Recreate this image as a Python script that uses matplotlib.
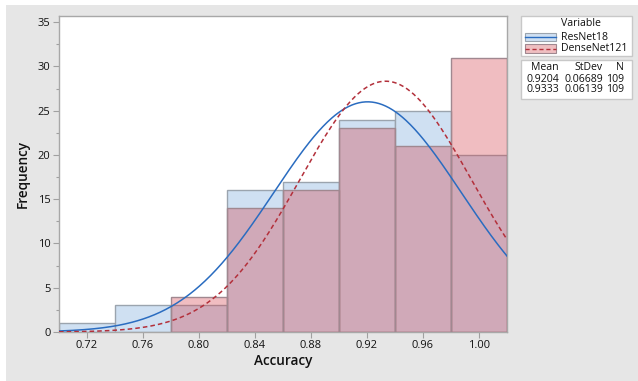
import numpy as np
import matplotlib
matplotlib.use("Agg")
import matplotlib.pyplot as plt
from matplotlib.patches import Rectangle
from matplotlib.lines import Line2D

plt.rcParams['font.family'] = ['Open Sans', 'DejaVu Sans']

# ---- data ----
bin_centers = [0.72, 0.76, 0.80, 0.84, 0.88, 0.92, 0.96, 1.00]
bin_width = 0.04
resnet_counts = [1, 3, 3, 16, 17, 24, 25, 20]
densenet_counts = [0, 0, 4, 14, 16, 23, 21, 31]
series_names = ["ResNet18", "DenseNet121"]
means = [0.9204, 0.9333]
stdevs = [0.06689, 0.06139]
ns = [109, 109]
xticks = [0.72, 0.76, 0.80, 0.84, 0.88, 0.92, 0.96, 1.00]
yticks = [0, 5, 10, 15, 20, 25, 30, 35]

W, H = 638, 381
fig = plt.figure(figsize=(W / 100, H / 100), dpi=100)
fig.patch.set_facecolor('white')
# gray panel background
fig.patches.append(Rectangle((6 / W, 0), 1 - 6 / W, 1 - 5 / H, transform=fig.transFigure,
                             facecolor='#e6e6e6', edgecolor='none', zorder=-10))

ax = fig.add_axes([59 / W, (H - 332) / H, 448 / W, 316 / H])
ax.set_facecolor('white')

blue_fill = '#cfe0f2'
blue_line = '#2a6cc0'
red_line = '#b3303b'
txt = '#111111'
fs_tick = 8
fs_leg = 7.6

ax.bar(bin_centers, resnet_counts, width=bin_width, color=blue_fill,
       edgecolor='#9ba4ae', linewidth=1.0, zorder=2)
dn = [(c, v) for c, v in zip(bin_centers, densenet_counts) if v > 0]
ax.bar([c for c, v in dn], [v for c, v in dn], width=bin_width,
       facecolor=(0.827, 0.251, 0.290, 0.34), edgecolor='#a08890', linewidth=1.0, zorder=3)

xs = np.linspace(0.70, 1.02, 400)
for m, s, n, col, ls in [(means[0], stdevs[0], ns[0], blue_line, '-'),
                         (means[1], stdevs[1], ns[1], red_line, (0, (3, 2)))]:
    ys = n * bin_width / (s * np.sqrt(2 * np.pi)) * np.exp(-0.5 * ((xs - m) / s) ** 2)
    ax.plot(xs, ys, color=col, linestyle=ls, linewidth=1.1, zorder=4)

ax.set_xlim(0.70, 1.02)
ax.set_ylim(0, 35.7)
ax.set_xticks(xticks)
ax.set_xticklabels([f"{t:.2f}" for t in xticks])
ax.set_yticks(yticks)
ax.set_yticks(np.arange(2.5, 35.7, 5), minor=True)
ax.tick_params(axis='both', which='major', labelsize=fs_tick, color='#a0a0a0', length=4,
               width=0.8, labelcolor=txt, pad=2)
ax.tick_params(axis='y', which='minor', color='#a0a0a0', length=2.5, width=0.8)
for sp in ax.spines.values():
    sp.set_color('#a8a8a8')
    sp.set_linewidth(1.0)

ax.set_xlabel('Accuracy', fontsize=9.8, fontweight='semibold', color=txt, labelpad=2)
ax.set_ylabel('Frequency', fontsize=9.8, fontweight='semibold', color=txt, labelpad=6)

# ---- legend box ----
def fx(px):
    return px / W

def fy(py):
    return 1 - py / H

fig.patches.append(Rectangle((fx(521), fy(56)), fx(632) - fx(521), fy(16) - fy(56),
                             transform=fig.transFigure, facecolor='white',
                             edgecolor='#c8c8c8', linewidth=1.0))
fig.text(fx(581), fy(23), 'Variable', fontsize=fs_leg, ha='center', va='center', color=txt)
handle_specs = [(33, 41, blue_fill, '#9ba4ae', blue_line, '-'),
                (44, 53, '#efbfc1', '#a08890', red_line, (0, (3, 2)))]
for (y0, y1, fc, ec, lc, ls), name in zip(handle_specs, series_names):
    fig.patches.append(Rectangle((fx(525), fy(y1)), fx(556) - fx(525), fy(y0) - fy(y1),
                                 transform=fig.transFigure, facecolor=fc, edgecolor=ec,
                                 linewidth=0.8))
    ym = fy((y0 + y1) / 2)
    fig.add_artist(Line2D([fx(525), fx(556)], [ym, ym], transform=fig.transFigure,
                          color=lc, linestyle=ls, linewidth=1.0))
    fig.text(fx(561), ym, name, fontsize=fs_leg, ha='left', va='center', color=txt)

# ---- stats box ----
fig.patches.append(Rectangle((fx(521), fy(99)), fx(632) - fx(521), fy(60) - fy(99),
                             transform=fig.transFigure, facecolor='white',
                             edgecolor='#c8c8c8', linewidth=1.0))
col_x = [559, 603, 624]
headers = ['Mean', 'StDev', 'N']
for cx, h in zip(col_x, headers):
    fig.text(fx(cx), fy(68), h, fontsize=fs_leg, ha='right', va='center', color=txt)
for ry, m, s, n in zip([79, 90], means, stdevs, ns):
    fig.text(fx(col_x[0]), fy(ry), f"{m:.4f}", fontsize=fs_leg, ha='right', va='center', color=txt)
    fig.text(fx(col_x[1]), fy(ry), f"{s:.5f}", fontsize=fs_leg, ha='right', va='center', color=txt)
    fig.text(fx(col_x[2]), fy(ry), f"{n}", fontsize=fs_leg, ha='right', va='center', color=txt)

fig.savefig('out.png', dpi=100)
